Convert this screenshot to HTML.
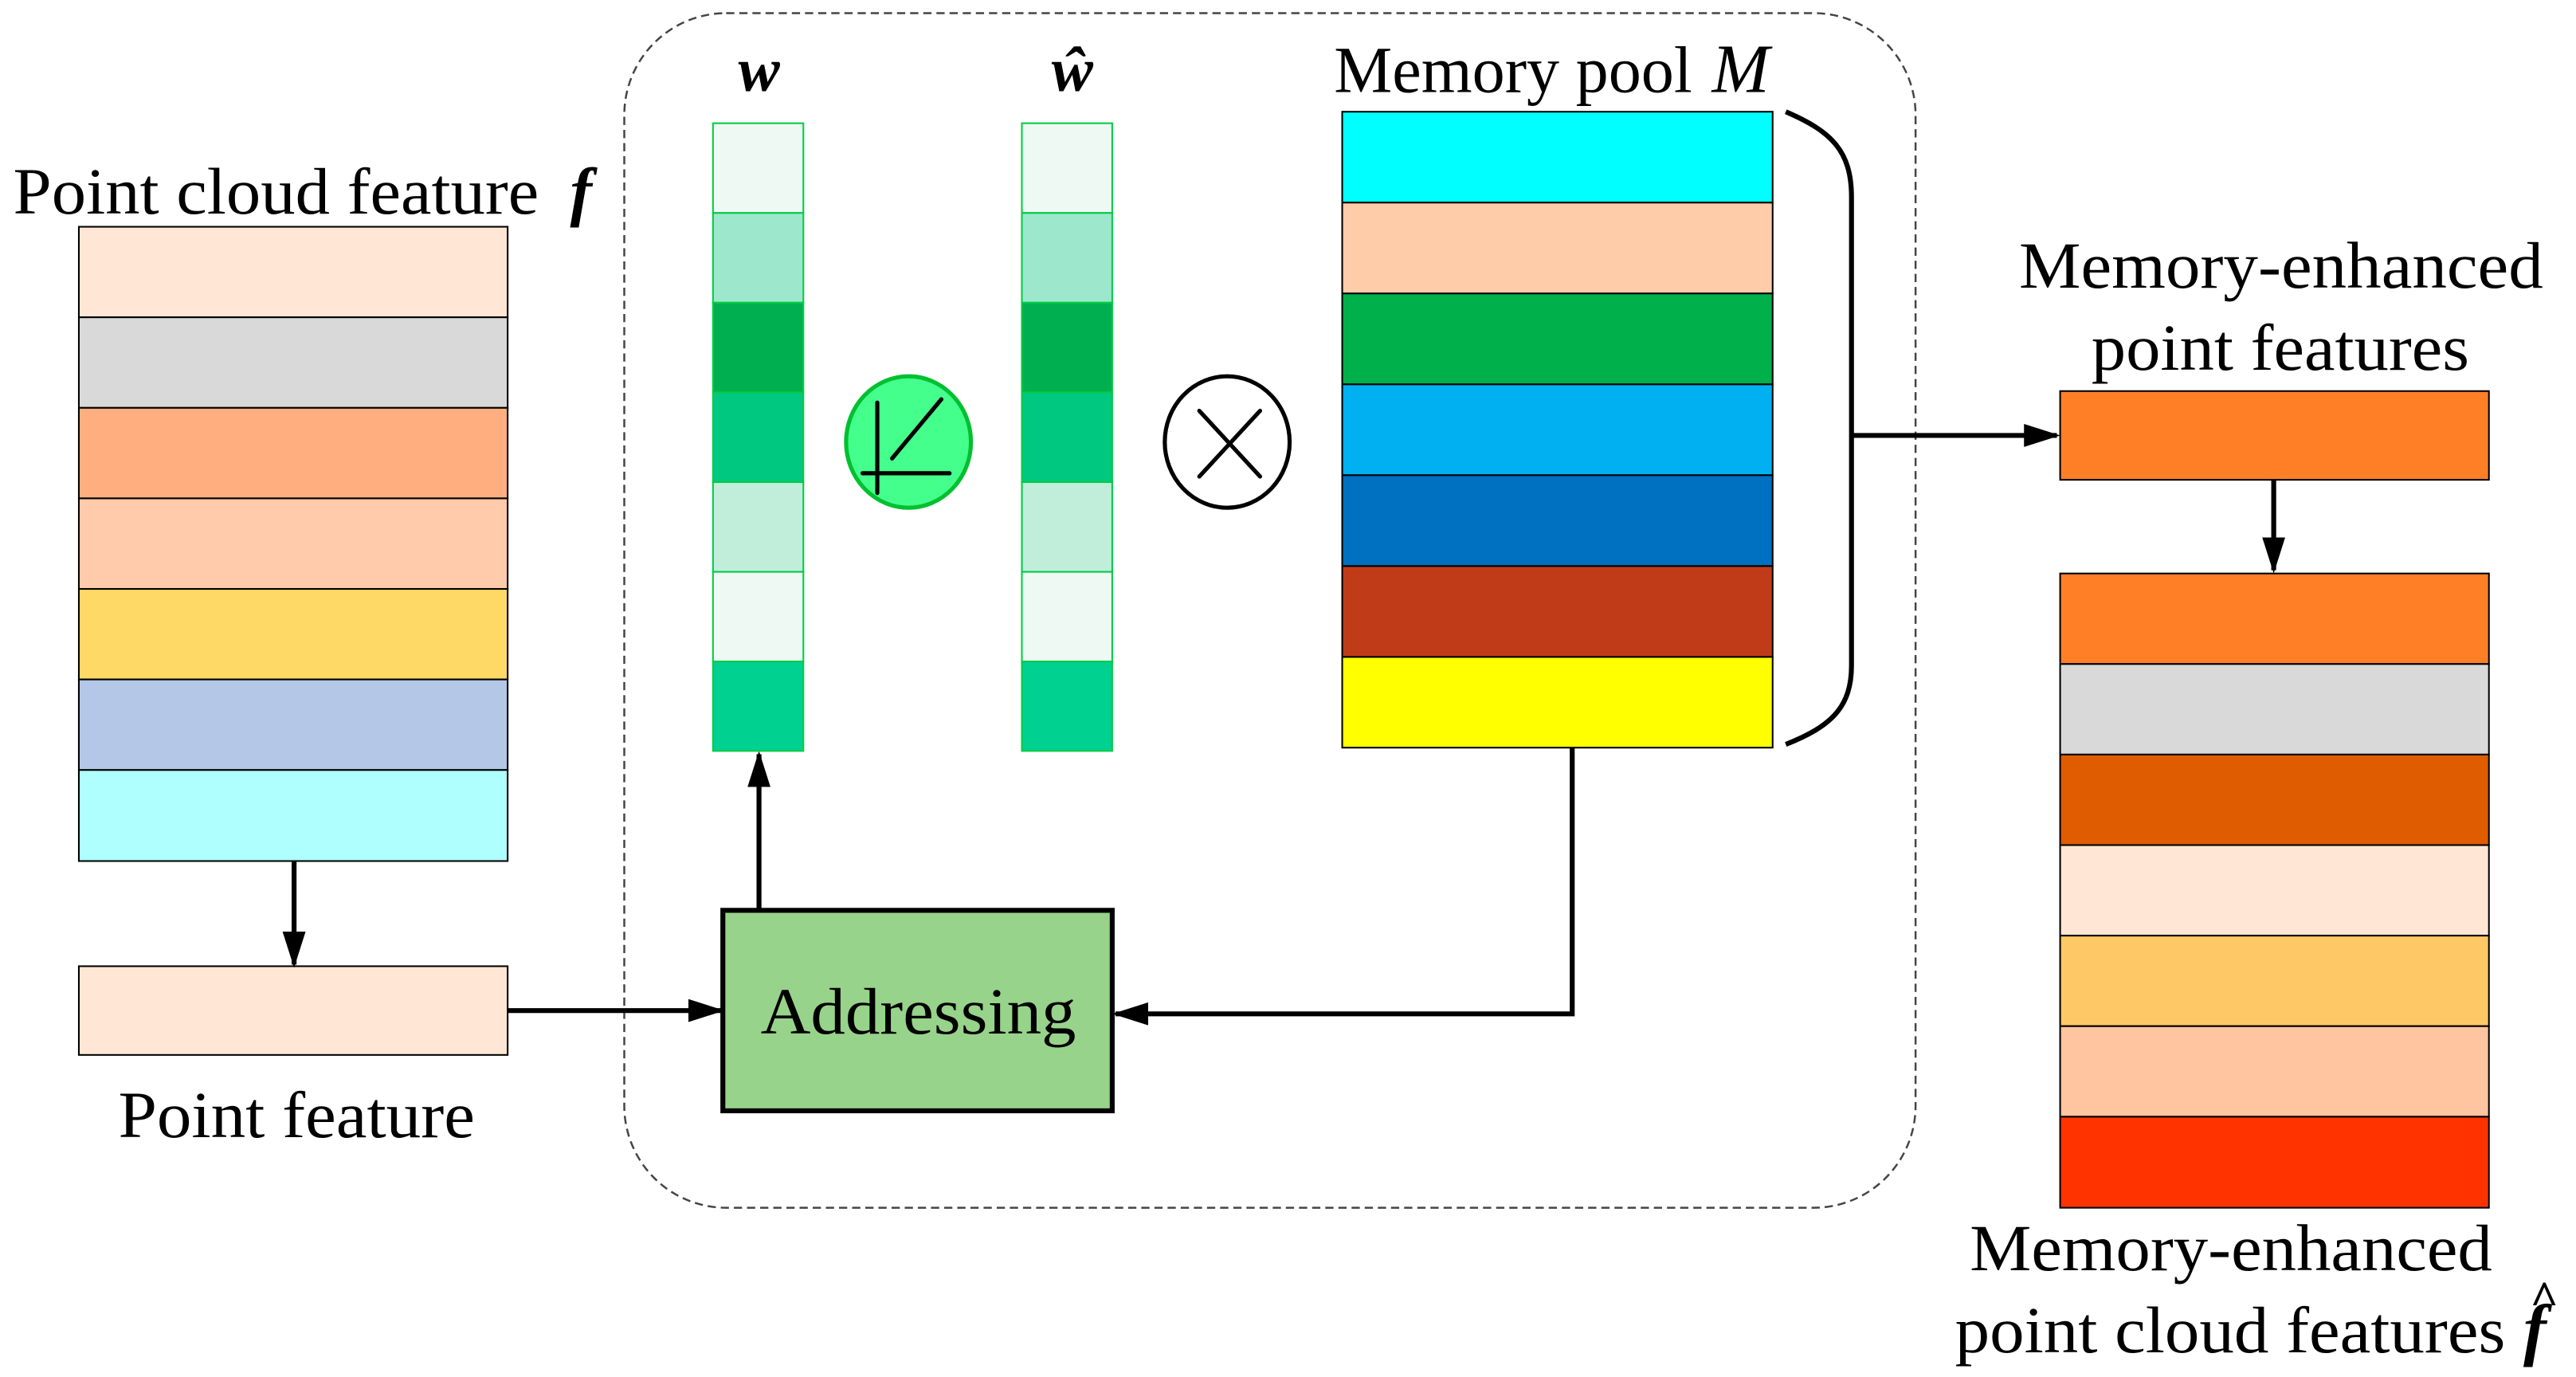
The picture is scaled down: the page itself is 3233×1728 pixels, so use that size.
<!DOCTYPE html>
<html><head><style>html,body{margin:0;padding:0;background:#fff}svg{display:block}</style></head>
<body>
<svg width="3233" height="1728" viewBox="0 0 1568 838" preserveAspectRatio="none" xmlns="http://www.w3.org/2000/svg" font-family="'Liberation Serif', serif">
<defs>
<marker id="ah" markerWidth="22" markerHeight="14" refX="20" refY="7" orient="auto" markerUnits="userSpaceOnUse" viewBox="0 0 22 14">
<path d="M0,0 L22,7 L0,14 z" fill="#000"/></marker>
</defs>
<rect x="380" y="8" width="786" height="727" rx="62" fill="none" stroke="#444" stroke-width="1.2" stroke-dasharray="5,3"/>

<g stroke="#000" stroke-width="1">
<rect x="48" y="138" width="261" height="55.1" fill="#FFE6D5"/>
<rect x="48" y="193.1" width="261" height="55.1" fill="#D9D9D9"/>
<rect x="48" y="248.2" width="261" height="55.1" fill="#FFAF7F"/>
<rect x="48" y="303.3" width="261" height="55.1" fill="#FFCBAA"/>
<rect x="48" y="358.4" width="261" height="55.1" fill="#FFD966"/>
<rect x="48" y="413.5" width="261" height="55.1" fill="#B4C7E7"/>
<rect x="48" y="468.6" width="261" height="55.4" fill="#AFFFFF"/>
<rect x="48" y="588" width="261" height="54" fill="#FFE6D5"/>
</g>
<text x="8" y="130" font-size="40" textLength="320" lengthAdjust="spacingAndGlyphs">Point cloud feature</text>
<text x="347" y="130" font-size="40" font-style="italic" font-weight="bold">f</text>
<text x="72" y="692" font-size="40" textLength="217" lengthAdjust="spacingAndGlyphs">Point feature</text>

<g stroke="#000" stroke-width="3" fill="none">
<line x1="179" y1="524" x2="179" y2="587" marker-end="url(#ah)"/>
<line x1="309" y1="615" x2="439" y2="615" marker-end="url(#ah)"/>
<line x1="462" y1="554" x2="462" y2="459" marker-end="url(#ah)"/>
<polyline points="957,455 957,617 679,617" marker-end="url(#ah)"/>
<line x1="1127" y1="265" x2="1252" y2="265" marker-end="url(#ah)"/>
<line x1="1384" y1="292" x2="1384" y2="347" marker-end="url(#ah)"/>
<path d="M1087,68 C1115,80 1127,92 1127,120 L1127,405 C1127,430 1115,442 1087,453"/>
</g>

<rect x="440" y="554" width="237" height="122" fill="#97D38A" stroke="#000" stroke-width="3"/>
<text x="463" y="629" font-size="40" textLength="192" lengthAdjust="spacingAndGlyphs">Addressing</text>

<g stroke="#00CC44" stroke-width="1">
<rect x="434" y="75" width="55" height="54.6" fill="#EEF9F4"/>
<rect x="434" y="129.6" width="55" height="54.6" fill="#9DE8CC"/>
<rect x="434" y="184.2" width="55" height="54.6" fill="#00B050"/>
<rect x="434" y="238.8" width="55" height="54.6" fill="#00C880"/>
<rect x="434" y="293.4" width="55" height="54.6" fill="#C0EEDA"/>
<rect x="434" y="348" width="55" height="54.6" fill="#EEF9F4"/>
<rect x="434" y="402.6" width="55" height="54.4" fill="#00D090"/>
<rect x="622" y="75" width="55" height="54.6" fill="#EEF9F4"/>
<rect x="622" y="129.6" width="55" height="54.6" fill="#9DE8CC"/>
<rect x="622" y="184.2" width="55" height="54.6" fill="#00B050"/>
<rect x="622" y="238.8" width="55" height="54.6" fill="#00C880"/>
<rect x="622" y="293.4" width="55" height="54.6" fill="#C0EEDA"/>
<rect x="622" y="348" width="55" height="54.6" fill="#EEF9F4"/>
<rect x="622" y="402.6" width="55" height="54.4" fill="#00D090"/>
</g>
<text x="462" y="55" font-size="38" font-style="italic" font-weight="bold" text-anchor="middle">w</text>
<text x="653" y="55" font-size="38" font-style="italic" font-weight="bold" text-anchor="middle">ŵ</text>

<ellipse cx="553" cy="269" rx="38" ry="40" fill="#45FF8C" stroke="#00C030" stroke-width="2.5"/>
<g stroke="#000" stroke-width="2.5" stroke-linecap="round">
<line x1="534" y1="245" x2="534" y2="300"/>
<line x1="525" y1="288" x2="578" y2="288"/>
<line x1="543" y1="279" x2="573" y2="243"/>
</g>
<ellipse cx="747" cy="269" rx="38" ry="40" fill="#fff" stroke="#000" stroke-width="2.5"/>
<g stroke="#000" stroke-width="2.5" stroke-linecap="round">
<line x1="730" y1="250" x2="767" y2="290"/>
<line x1="767" y1="250" x2="730" y2="290"/>
</g>

<g stroke="#000" stroke-width="1">
<rect x="817" y="68" width="262" height="55.3" fill="#00FFFF"/>
<rect x="817" y="123.3" width="262" height="55.3" fill="#FFCCAA"/>
<rect x="817" y="178.6" width="262" height="55.3" fill="#00B04A"/>
<rect x="817" y="233.9" width="262" height="55.3" fill="#00B0F0"/>
<rect x="817" y="289.2" width="262" height="55.3" fill="#0070C0"/>
<rect x="817" y="344.5" width="262" height="55.3" fill="#C03C18"/>
<rect x="817" y="399.8" width="262" height="55.2" fill="#FFFF00"/>
</g>
<text x="812" y="56" font-size="40" textLength="218" lengthAdjust="spacingAndGlyphs">Memory pool</text>
<text x="1042" y="56" font-size="42" font-style="italic">M</text>

<text x="1229" y="175" font-size="40" textLength="319" lengthAdjust="spacingAndGlyphs">Memory-enhanced</text>
<text x="1273" y="225" font-size="40" textLength="230" lengthAdjust="spacingAndGlyphs">point features</text>
<g stroke="#000" stroke-width="1">
<rect x="1254" y="238" width="261" height="54" fill="#FF7F27"/>
<rect x="1254" y="349" width="261" height="55.1" fill="#FF7F27"/>
<rect x="1254" y="404.1" width="261" height="55.1" fill="#D9D9D9"/>
<rect x="1254" y="459.2" width="261" height="55.1" fill="#E05C00"/>
<rect x="1254" y="514.3" width="261" height="55.1" fill="#FFE6D5"/>
<rect x="1254" y="569.4" width="261" height="55.1" fill="#FFC866"/>
<rect x="1254" y="624.5" width="261" height="55.1" fill="#FFC4A0"/>
<rect x="1254" y="679.6" width="261" height="55.4" fill="#FF3300"/>
</g>
<text x="1199" y="773" font-size="40" textLength="318" lengthAdjust="spacingAndGlyphs">Memory-enhanced</text>
<text x="1190" y="823" font-size="40" textLength="335" lengthAdjust="spacingAndGlyphs">point cloud features</text>
<text x="1536" y="823" font-size="42" font-style="italic" font-weight="bold">f</text>
<text x="1540" y="800" font-size="30" font-weight="bold">^</text>
</svg>
</body></html>
